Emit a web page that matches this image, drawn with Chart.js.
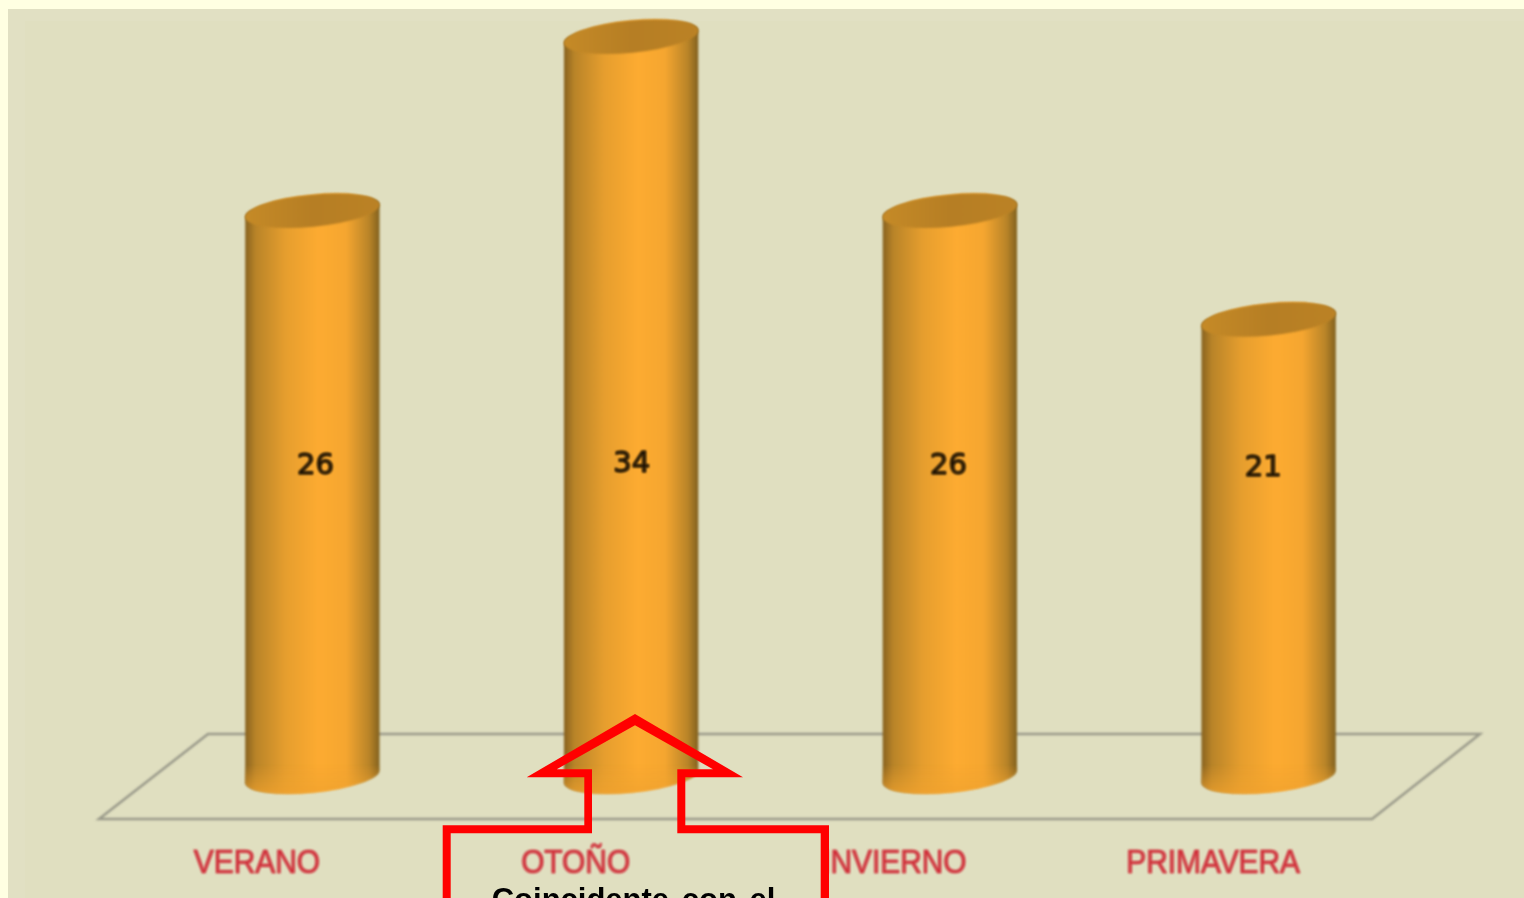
<!DOCTYPE html>
<html lang="es">
<head>
<meta charset="utf-8">
<title>Estaciones</title>
<script src="https://cdn.jsdelivr.net/npm/chart.js@4/dist/chart.umd.min.js"></script>
<style>
html,body{margin:0;padding:0;background:#ffffe2;overflow:hidden}
canvas{display:block}
</style>
</head>
<body>
<canvas id="c" width="1524" height="898"></canvas>
<script>
const categories = ["VERANO", "OTOÑO", "INVIERNO", "PRIMAVERA"];
const seriesValues = [26, 34, 26, 21];
const calloutText = "Coincidente con el";

const BLUR = 'blur(0.8px)';
const RX = 67.5, RY = 16, TILT = -5.6 * Math.PI / 180;

/* Cylinder shape for every bar element, positioned by the library's scales */
Chart.BarElement.prototype.draw = function (ctx) {
  const x = this.x, top = this.y, base = this.base, rx = this.width / 2;
  const g = ctx.createLinearGradient(x - rx, 0, x + rx, 0);
  g.addColorStop(0, '#86611f');
  g.addColorStop(0.08, '#b98428');
  g.addColorStop(0.30, '#e69e2e');
  g.addColorStop(0.55, '#fdab31');
  g.addColorStop(0.75, '#f5a630');
  g.addColorStop(0.92, '#b98428');
  g.addColorStop(1, '#80601f');
  ctx.save();
  ctx.fillStyle = g;
  ctx.beginPath();
  ctx.ellipse(x, top, rx, RY, TILT, Math.PI, 2 * Math.PI);
  ctx.ellipse(x, base, rx, RY, TILT, 0, Math.PI);
  ctx.closePath();
  ctx.fill();
  const gb = ctx.createLinearGradient(x, base - 12, x, base + 16);
  gb.addColorStop(0, 'rgba(240,162,46,0)');
  gb.addColorStop(1, 'rgba(240,162,46,0.7)');
  ctx.fillStyle = gb;
  ctx.beginPath();
  ctx.moveTo(x - rx, base - 12);
  ctx.lineTo(x + rx, base - 12);
  ctx.ellipse(x, base, rx, RY, TILT, 0, Math.PI);
  ctx.closePath();
  ctx.fill();
  const gt = ctx.createLinearGradient(x - rx, 0, x + rx, 0);
  gt.addColorStop(0, '#c58a27');
  gt.addColorStop(0.5, '#b67e24');
  gt.addColorStop(1, '#bb8225');
  ctx.fillStyle = gt;
  ctx.beginPath();
  ctx.ellipse(x, top, rx, RY, TILT, 0, 2 * Math.PI);
  ctx.fill();
  ctx.restore();
};

const outerArrow = [[635,714],[743,777.3],[685.3,777.3],[685.3,825.3],[829,825.3],[829,930],[442.7,930],[442.7,825.3],[584.3,825.3],[584.3,777.3],[526.7,777.3]];
const innerArrow = [[635,725.3],[713,769.3],[677.3,769.3],[677.3,833.3],[820.7,833.3],[820.7,930],[450.7,930],[450.7,833.3],[592,833.3],[592,769.3],[556.7,769.3]];

const stage = {
  id: 'stage',
  beforeDraw(chart) {
    const c = chart.ctx;
    c.save();
    c.fillStyle = '#ffffe2';
    c.fillRect(0, 0, 1524, 898);
    c.fillStyle = '#e1e0c3';
    c.fillRect(8, 9, 1516, 889);
    c.fillStyle = '#e0dfc0';
    c.fillRect(25, 21, 1499, 877);
    c.restore();
    c.filter = BLUR;
  },
  beforeDatasetsDraw(chart) {
    const c = chart.ctx;
    c.save();
    c.strokeStyle = '#9a9a8a';
    c.lineWidth = 2.5;
    c.beginPath();
    c.moveTo(208, 734); c.lineTo(1480, 734); c.lineTo(1372, 819); c.lineTo(99, 819);
    c.closePath();
    c.stroke();
    c.restore();
  },
  afterDatasetsDraw(chart) {
    const c = chart.ctx, bars = chart.getDatasetMeta(0).data, y = chart.scales.y;
    const nudge = [3, 0.5, -1.5, -5.5], lift = [0, -2, 0, 2];
    c.save();
    c.fillStyle = '#150d02';
    c.strokeStyle = '#150d02';
    c.lineWidth = 1;
    c.font = '29px "DejaVu Sans"';
    c.textAlign = 'center';
    c.textBaseline = 'middle';
    bars.forEach((b, i) => {
      const ly = y.getPixelForValue(14.3) + lift[i] + 1.5;
      c.fillText(String(seriesValues[i]), b.x + nudge[i], ly);
      c.strokeText(String(seriesValues[i]), b.x + nudge[i], ly);
    });
    c.restore();
    c.filter = 'none';

    /* callout */
    c.save();
    c.fillStyle = '#ff0000';
    c.beginPath();
    [outerArrow, innerArrow].forEach(poly => {
      poly.forEach((p, i) => i ? c.lineTo(p[0], p[1]) : c.moveTo(p[0], p[1]));
      c.closePath();
    });
    c.fill('evenodd');
    c.fillStyle = '#000';
    c.font = 'bold 31px "Liberation Sans"';
    c.wordSpacing = '4px';
    c.textAlign = 'center';
    c.textBaseline = 'alphabetic';
    c.fillText(calloutText, 633.5, 910);
    c.restore();
  }
};

new Chart(document.getElementById('c'), {
  type: 'bar',
  data: {
    labels: categories,
    datasets: [{
      data: seriesValues,
      backgroundColor: '#fcaa31',
      barPercentage: 0.4235,
      categoryPercentage: 1,
      clip: false
    }]
  },
  plugins: [stage],
  options: {
    responsive: false,
    animation: false,
    layout: { padding: { left: 153, right: 96, top: 15, bottom: 0 } },
    plugins: { legend: { display: false }, tooltip: { enabled: false }, title: { display: false } },
    scales: {
      y: { display: false, min: 0, max: 35 },
      x: {
        grid: { display: false },
        border: { display: false },
        afterFit(s) { s.height = 121.5; },
        afterUpdate(s) {
          /* condensed tick labels: same items the axis computes, narrowed horizontally */
          s.drawLabels = function (area) {
            const c = this.ctx;
            this.getLabelItems(area).forEach(it => {
              const t = it.options.translation;
              c.save();
              c.translate(t[0], t[1]);
              c.scale(0.905, 1);
              c.font = it.font.string;
              c.fillStyle = it.options.color;
              c.strokeStyle = it.options.color;
              c.lineWidth = 0.7;
              c.textAlign = 'center';
              c.textBaseline = 'middle';
              c.fillText(it.label, 0, 0);
              c.strokeText(it.label, 0, 0);
              c.restore();
            });
          };
        },
        ticks: {
          color: '#d02a36',
          font: { family: '"Liberation Sans"', size: 33 },
          padding: 79.5,
          labelOffset: -55.5,
          autoSkip: false,
          maxRotation: 0,
          minRotation: 0
        }
      }
    }
  }
});
</script>
</body>
</html>
